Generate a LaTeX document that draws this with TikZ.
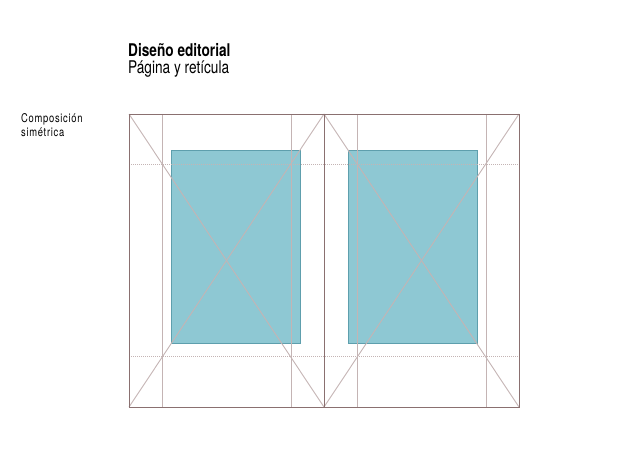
\documentclass[tikz,border=0pt]{standalone}
\usepackage{fontspec}
\setmainfont{TeX Gyre Heros}[FakeStretch=0.78]
\definecolor{marco}{HTML}{8A7070}
\definecolor{guia}{HTML}{C4B4B4}
\definecolor{mancha}{HTML}{8EC8D3}
\definecolor{borde}{HTML}{5E9FAD}

\begin{document}
\begin{tikzpicture}[x=1pt,y=-1pt,
    texto/.style={anchor=base west,inner sep=0pt},
    titulo/.style={texto,font=\fontsize{17.5}{19}\selectfont},
    nota/.style={texto,font=\fontsize{12}{13}\selectfont\addfontfeatures{LetterSpace=6}},
    caja/.style={fill=mancha,draw=borde,line width=0.8pt},
    diagonal/.style={draw=guia,line width=0.9pt},
    columna/.style={draw=guia,line width=0.8pt},
    linea/.style={draw=guia,line width=0.9pt,dash pattern=on 1pt off 1pt},
    pagina/.style={draw=marco,line width=0.8pt}]
    \useasboundingbox (0,0) rectangle (638,452);
    % textos
    \node[titulo,font=\fontsize{17.5}{19}\selectfont\bfseries] at (128,57) (tit) {Diseño editorial};
    \node[titulo] at (128,74) (sub) {Página y retícula};
    \node[nota] at (21,123) (com) {Composición};
    \node[nota] at (21,136) (sim) {simétrica};
    % esquinas del pliego
    \coordinate (a) at (129,114);
    \coordinate (b) at (324,114);
    \coordinate (c) at (519,114);
    \coordinate (d) at (129,407);
    \coordinate (e) at (324,407);
    \coordinate (f) at (519,407);
    % manchas de texto
    \path[caja] (171,150) rectangle (300,343);
    \path[caja] (348,150) rectangle (477,343);
    % reticula
    \draw[columna] (162,114) -- (162,407);
    \draw[columna] (291,114) -- (291,407);
    \draw[columna] (357,114) -- (357,407);
    \draw[columna] (486,114) -- (486,407);
    \draw[linea] (129,164) -- (519,164);
    \draw[linea] (129,356) -- (519,356);
    \draw[diagonal] (a) -- (e);
    \draw[diagonal] (b) -- (d);
    \draw[diagonal] (b) -- (f);
    \draw[diagonal] (c) -- (e);
    % paginas
    \draw[pagina] (a) -- (c) -- (f) -- (d) -- cycle;
    \draw[pagina] (b) -- (e);
\end{tikzpicture}
\end{document}
